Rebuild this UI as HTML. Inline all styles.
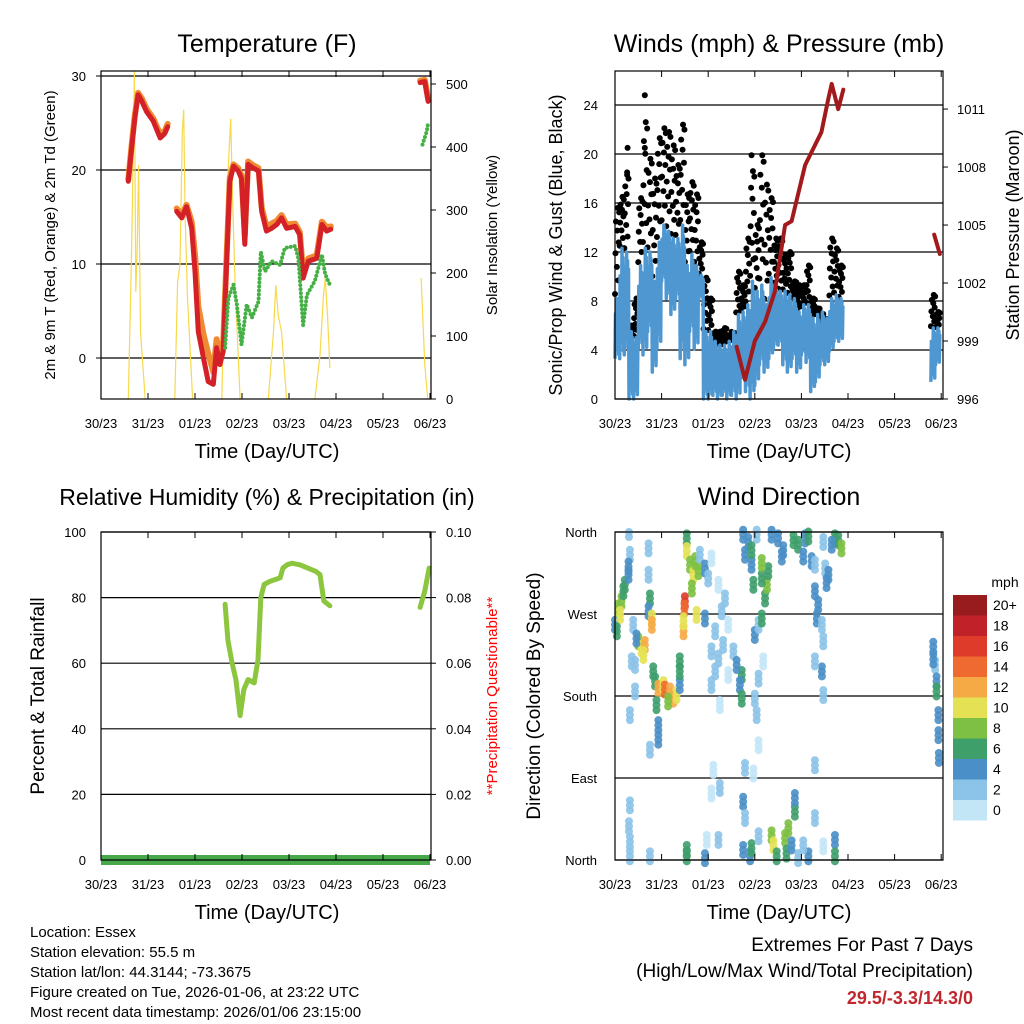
<!DOCTYPE html>
<html><head><meta charset="utf-8"><style>
html,body{margin:0;padding:0;background:#fff;}
svg{display:block;font-family:"Liberation Sans",sans-serif;}
</style></head><body>
<svg id="c" width="1024" height="1024" viewBox="0 0 1024 1024" xmlns="http://www.w3.org/2000/svg"></svg>
<script>
// ---------- DATA ----------
const dayLabels=["30/23","31/23","01/23","02/23","03/23","04/23","05/23","06/23"];
const temp2mT=[0.01,null,0.58,0.65,0.72,0.79,0.87,0.97,1.11,1.26,1.36,1.42,null,1.61,1.72,1.82,1.93,2.0,2.07,2.18,2.28,2.39,2.46,2.53,2.6,2.67,2.74,2.82,2.92,2.99,3.06,3.13,3.24,3.35,3.42,3.52,3.63,3.74,3.84,3.95,4.13,4.23,4.3,4.41,4.59,4.7,4.8,4.89,null,6.79,6.89,6.96];
const temp2mV=[14.8,null,18.8,22.3,25.5,28,27.3,26.2,25.2,23.4,23.9,24.6,null,15.6,14.9,16.1,13.8,9.2,2.8,0,-2.5,-2.8,1.1,-0.7,0.7,9.9,18.8,20.4,19.9,19.1,12.1,20.6,20.2,19.9,15.6,13.5,13.8,14.2,14.9,13.8,14.0,13.1,8.5,10.3,10.6,14.2,13.5,13.7,null,29.3,29.4,27.3];
const temp9mV=[14.9,null,19.0,22.6,25.8,28.2,27.6,26.5,25.5,23.8,24.2,24.9,null,15.9,15.2,16.3,14.5,11.0,5.5,2.5,0.5,-1.5,2.0,0.5,1.5,10.5,19.2,20.6,20.2,19.4,13.0,20.9,20.5,20.2,16.0,14.0,14.3,14.6,15.2,14.2,14.3,13.4,9.0,10.6,10.9,14.5,13.9,14.0,null,29.5,29.6,27.6];
const dewT=[2.64,2.71,2.82,2.89,2.99,3.1,3.21,3.35,3.4,3.49,3.63,3.81,3.91,4.13,4.2,4.3,4.38,4.55,4.7,4.77,4.87,null,6.84,6.93,6.96];
const dewV=[1.1,6.4,7.8,5.7,1.4,5.7,4.3,6.0,11.3,9.2,10.3,9.9,11.7,11.9,10.6,3.5,6.7,8.2,11.0,8.9,7.8,null,22.7,24.1,25];
const solarT=[0.58,0.64,0.67,0.71,0.74,0.77,0.8,0.84,0.94,null,1.57,1.63,1.68,1.73,1.76,1.79,1.84,1.95,null,2.57,2.65,2.71,2.76,2.8,2.85,2.96,null,3.56,3.67,3.72,3.77,3.84,3.95,null,4.55,4.66,4.73,4.77,4.82,4.87,null,6.81,6.89,6.95];
const solarV=[0,197,318,520,170,239,371,107,0,null,0,186,213,424,459,292,160,0,null,0,266,371,445,318,186,0,null,0,107,181,133,107,0,null,0,70,160,192,133,49,null,192,54,0];
const windLo=[3.3,3.3,3.6,0,0,4.1,3.6,5.5,2.2,4.1,9.6,8.2,6.9,8.2,3.3,2.8,5.5,4.1,8.2,0,0,0.3,0,0.3,0,0.3,0,1.7,0.6,0,1.1,2.8,2.2,3.3,4.1,4.4,2.8,2.2,3.3,2.2,3.6,3.0,0.6,1.4,2.8,2.8,3.9,4.7,4.7];
const windHi=[8.2,12.3,12.0,5.5,5.0,10.9,12.3,12.0,9.6,12.8,14.2,13.7,13.1,13.1,14.2,10.9,11.8,10.9,10.1,5.5,5.5,4.7,4.4,4.4,4.7,5.5,6.9,7.1,7.7,9.6,8.8,9.3,7.7,9.9,9.3,8.8,8.8,8.5,8.2,7.1,7.7,7.7,6.6,6.9,7.1,6.6,8.2,8.5,8.2];
const gustHi=[15.6,16.5,18.3,6.0,8.2,16.4,22.6,19.6,18.0,21.3,22.1,21.8,20.7,19.1,22.4,16.7,17.7,16.7,12.8,9.9,8.2,5.5,5.5,5.8,5.2,5.0,10.4,9.3,13.1,18.6,14.2,19.9,17.5,16.4,13.1,13.1,11.8,12.0,9.6,9.3,9.3,10.9,8.2,7.4,6.3,6.3,13.1,12.3,10.9];
const windLateT=[6.78,6.88];
const windLateLo=[1.4,2.8];
const windLateHi=[5.8,5.8];
const gustLateHi=[8.5,7.1];
const gustOutT=[0.64,0.64,0.27,2.93,0.26];
const gustOutV=[24.8,20.5,20.5,19.9,18.5];
const presT=[2.61,2.79,3.0,3.22,3.43,3.65,3.79,4.08,4.43,4.58,4.65,4.79,4.9,null,6.85,6.97];
const presV=[998.7,997.0,999.0,1000.0,1001.55,1005.0,1005.2,1008.1,1009.8,1011.55,1012.3,1011.0,1012.0,null,1004.5,1003.5];
const rhT=[2.64,2.70,2.79,2.87,2.96,3.04,3.13,3.26,3.34,3.40,3.47,3.6,3.81,3.87,3.96,4.06,4.23,4.4,4.57,4.66,4.74,4.87,null,6.79,6.89,6.98];
const rhV=[78,67,60,55,44,52,55,54,61,80,84,85,86,89,90,90.5,90,89,88,87,79,77.5,null,77,82,89];
const precipT=[0,7];
const precipV=[0,0];
const dirT=[0.0,0.07,0.14,0.11,0.18,0.04,0.21,0.29,0.3,0.32,0.29,0.39,0.5,0.57,0.64,0.61,0.46,0.43,0.36,0.43,0.32,0.72,0.72,0.75,0.72,0.79,0.79,0.82,0.86,0.93,1.04,1.07,1.18,1.25,1.14,1.32,1.39,0.89,0.93,0.93,0.75,0.32,0.3,0.32,0.32,0.75,1.39,1.39,1.5,1.49,1.47,1.47,1.54,1.54,1.61,1.68,1.72,1.65,1.79,1.75,1.82,1.93,2.0,1.93,2.07,2.22,2.29,2.36,2.43,2.15,2.07,2.22,2.15,2.32,2.54,2.43,2.07,2.25,2.11,2.25,2.07,1.93,1.54,1.54,1.97,2.22,2.72,2.68,2.72,2.61,2.79,2.97,2.75,2.79,2.75,2.9,2.93,3.08,3.08,3.04,3.0,3.08,3.18,3.0,3.08,3.15,3.22,3.26,3.29,3.15,2.97,2.93,2.79,2.75,2.86,3.04,2.93,3.15,3.36,3.5,3.61,3.58,3.83,3.93,4.08,4.15,4.04,4.22,4.29,4.36,4.33,4.29,4.47,4.51,4.58,4.72,4.79,4.86,4.65,4.54,4.44,4.47,4.44,4.47,4.29,4.29,4.29,3.36,3.4,3.47,3.65,3.72,3.68,3.86,3.86,3.79,3.93,4.15,4.04,4.72,4.72,4.47,6.83,6.87,6.9,6.9,6.94,6.94,6.95,6.83];
const dirV=[258,276,284,269,295,251,302,313,360,335,322,258,240,232,236,225,243,214,218,185,159,342,313,287,273,265,258,207,196,188,192,187,185,177,174,181,192,170,148,132,121,60,37,20,4,4,218,207,284,276,251,262,353,339,324,313,328,298,317,269,335,320,309,265,331,302,273,287,258,251,229,221,207,236,229,203,192,170,99,79,73,2,11,4,22,22,203,192,177,214,101,95,64,46,11,4,13,26,126,159,177,199,218,247,258,265,287,302,317,309,302,324,335,357,349,357,340,326,357,353,340,333,351,346,353,355,333,328,295,280,265,324,349,320,313,353,351,342,346,304,258,240,207,181,218,104,46,27,16,4,24,35,7,53,68,16,2,4,16,22,4,15,234,214,196,185,159,137,112,220];
const dirS=[4,9,8,11,6,6,7,5,3,2,4,2,8,10,12,11,4,3,2,2,3,2,2,6,5,10,12,6,6,13,10,15,12,12,8,11,4,7,4,4,3,2,3,3,3,3,6,7,16,14,13,10,7,10,9,10,8,9,8,10,3,5,2,4,1,1,2,2,1,2,2,3,2,2,3,1,2,1,1,2,1,4,6,6,1,3,6,5,6,4,3,1,4,3,4,4,6,2,1,3,2,3,1,4,2,6,6,8,6,6,6,4,4,4,5,2,7,8,4,4,4,4,6,6,4,6,4,4,4,4,4,2,2,2,4,6,6,8,4,4,2,2,4,2,2,2,2,8,10,6,8,8,6,6,4,4,2,4,2,4,6,1,4,2,4,6,4,4,4,4];
const speedLabels=["0","2","4","6","8","10","12","14","16","18","20+"];
const speedColors=["#c3e6f7","#8cc3e8","#4a8fc7","#3f9f6b","#7dc043","#e4e254","#f6aa45","#ee6a30","#de3b2a","#c1222a","#981b1e"];

// ---------- HELPERS ----------
const NS="http://www.w3.org/2000/svg";
const svg=document.getElementById('c');
function mk(tag,attrs,parent,text){const e=document.createElementNS(NS,tag);for(const k in attrs)e.setAttribute(k,attrs[k]);if(text!==undefined)e.textContent=text;(parent||svg).appendChild(e);return e;}
function txt(x,y,s,size,anchor,name,extra){const e=mk('text',Object.assign({x:x,y:y,'font-size':size,'text-anchor':anchor||'middle',fill:'#000'},extra||{}),svg,s);


return e;}
function pathFrom(T,V,sx,sy){let d='',pen=false;for(let i=0;i<T.length;i++){if(T[i]===null||V[i]===null){pen=false;continue;}d+=(pen?'L':'M')+sx(T[i]).toFixed(1)+','+sy(V[i]).toFixed(1);pen=true;}return d;}
function panelFrame(x0,y0,x1,y1,name,gridVals,sy){
  const g=mk('g',{});
  
  
  gridVals.forEach(v=>{const y=sy(v);const l=mk('line',{x1:x0,x2:x1,y1:y,y2:y,stroke:'#000','stroke-width':1.2},g);
    
    });
  return g;
}
function border(x0,y0,x1,y1,name){const r=mk('rect',{x:x0,y:y0,width:x1-x0,height:y1-y0,fill:'none',stroke:'#000','stroke-width':1.2});

}
function xTicks(x0,x1,y0,y1,sx){
  dayLabels.forEach((lab,i)=>{const x=sx(i);
    mk('line',{x1:x,x2:x,y1:y1,y2:y1-6,stroke:'#000'});mk('line',{x1:x,x2:x,y1:y0,y2:y0+6,stroke:'#000'});
    txt(x,y1+29,lab,13,'middle','x-tick-label');});
}

// ---------- PANEL 1 ----------
(function(){
 const x0=101,x1=431,y0=71,y1=399;
 const sx=d=>x0+d*47, sy=v=>358-v*9.4, ss=v=>399-v*0.63;
 panelFrame(x0,y0,x1,y1,'temperature-plot',[0,10,20,30],sy);
 const sol=mk('path',{d:pathFrom(solarT,solarV,sx,ss),fill:'none',stroke:'#f7d94a','stroke-width':1.2});
 
 
 const o=mk('path',{d:pathFrom(temp2mT,temp9mV,sx,sy),fill:'none',stroke:'#f08a32','stroke-width':6,'stroke-linejoin':'round','stroke-linecap':'round'});
 
 
 const r=mk('path',{d:pathFrom(temp2mT,temp2mV,sx,sy),fill:'none',stroke:'#d42027','stroke-width':5,'stroke-linejoin':'round','stroke-linecap':'round'});
 
 
 const dg=mk('path',{d:pathFrom(dewT,dewV,sx,sy),fill:'none',stroke:'#45b045','stroke-width':4,'stroke-dasharray':'0 4','stroke-linecap':'round','stroke-linejoin':'round'});
 
 
 border(x0,y0,x1,y1,'temperature-frame');
 xTicks(x0,x1,y0,y1,sx);
 [0,10,20,30].forEach(v=>{mk('line',{x1:x0-5,x2:x0,y1:sy(v),y2:sy(v),stroke:'#000'});txt(86,sy(v)+5,String(v),13,'end','y-tick-label');});
 [0,100,200,300,400,500].forEach(v=>{mk('line',{x1:x1,x2:x1+5,y1:ss(v),y2:ss(v),stroke:'#000'});txt(446,ss(v)+5,String(v),13,'start','y2-tick-label');});
 txt(267,52,'Temperature (F)',25,'middle','temperature-title');
 txt(267,458,'Time (Day/UTC)',20,'middle','x-axis-title');
 txt(0,0,'2m & 9m T (Red, Orange) & 2m Td (Green)',15,'middle','y-axis-title',{transform:'translate(55,235) rotate(-90)'});
 txt(0,0,'Solar Insolation (Yellow)',15,'middle','y2-axis-title',{transform:'translate(497,235) rotate(-90)'});
})();

// ---------- PANEL 2 ----------
(function(){
 const x0=615,x1=943,y0=71,y1=399;
 const sx=d=>x0+d*46.6, sy=v=>399-v*12.25, sp=v=>399-(v-996)*19.33;
 const grid=[0,4,8,12,16,20,24];
 panelFrame(x0,y0,x1,y1,'winds-plot',grid,sy);
 const gg=mk('g',{});
 
 
 const fr=[0.05,0.2,0.35,0.5,0.62,0.75,0.85,0.95,1.0];
 function gusts(t,lo,hi){fr.forEach((f,k)=>{const v=lo+(hi-lo)*f;const x=sx(t+((k*37)%10)/100);mk('circle',{cx:x,cy:sy(v),r:3,fill:'#000'},gg);});}
 windHi.forEach((h,i)=>gusts(i*0.1,h,gustHi[i]));
 windLateHi.forEach((h,i)=>gusts(windLateT[i],h,gustLateHi[i]));
 gustOutT.forEach((t,i)=>mk('circle',{cx:sx(t),cy:sy(gustOutV[i]),r:3,fill:'#000'},gg));
 function zigPath(T0,Lo,Hi){let d='';Lo.forEach((l,i)=>{const t=T0(i);const h=Hi[i];
   for(let k=0;k<10;k++){const x=sx(t+k*0.01);const v=(k%2)?h-(h-l)*((k*3)%5)/12:l+(h-l)*((k*7)%5)/14;
     d+=((i===0&&k===0)?'M':'L')+x.toFixed(1)+','+sy(v).toFixed(1);}});return d;}
 const w=mk('path',{d:zigPath(i=>i*0.1,windLo,windHi)+zigPath(i=>windLateT[i],windLateLo,windLateHi),fill:'none',stroke:'#4f97d1','stroke-width':3.5,'stroke-linejoin':'round'});
 
 
 const p=mk('path',{d:pathFrom(presT,presV,sx,sp),fill:'none',stroke:'#a31a1d','stroke-width':4,'stroke-linejoin':'round','stroke-linecap':'round'});
 
 
 border(x0,y0,x1,y1,'winds-frame');
 xTicks(x0,x1,y0,y1,sx);
 grid.forEach(v=>{txt(598,sy(v)+5,String(v),13,'end','y-tick-label');});
 [996,999,1002,1005,1008,1011].forEach(v=>{mk('line',{x1:x1,x2:x1+5,y1:sp(v),y2:sp(v),stroke:'#000'});txt(957,sp(v)+5,String(v),13,'start','y2-tick-label');});
 txt(779,52,'Winds (mph) & Pressure (mb)',25,'middle','winds-title');
 txt(779,458,'Time (Day/UTC)',20,'middle','x-axis-title');
 txt(0,0,'Sonic/Prop Wind & Gust (Blue, Black)',18,'middle','y-axis-title',{transform:'translate(562,245) rotate(-90)'});
 txt(0,0,'Station Pressure (Maroon)',18,'middle','y2-axis-title',{transform:'translate(1019,235) rotate(-90)'});
})();

// ---------- PANEL 3 ----------
(function(){
 const x0=101,x1=431,y0=532,y1=860;
 const sx=d=>x0+d*47, sy=v=>860-v*3.28, spr=v=>860-v*3280;
 const grid=[0,20,40,60,80,100];
 panelFrame(x0,y0,x1,y1,'humidity-plot',grid,sy);
 const pr=mk('path',{d:pathFrom(precipT,precipV,sx,spr),fill:'none',stroke:'#47a84a','stroke-width':10});
 
 
 const rh=mk('path',{d:pathFrom(rhT,rhV,sx,sy),fill:'none',stroke:'#8cc63f','stroke-width':5,'stroke-linejoin':'round','stroke-linecap':'round'});
 
 
 border(x0,y0,x1,y1,'humidity-frame');
 xTicks(x0,x1,y0,y1,sx);
 grid.forEach(v=>txt(86,sy(v)+5,String(v),13,'end','y-tick-label'));
 ['0.00','0.02','0.04','0.06','0.08','0.10'].forEach((s,i)=>{mk('line',{x1:x1,x2:x1+5,y1:sy(i*20),y2:sy(i*20),stroke:'#000'});txt(446,sy(i*20)+5,s,13,'start','y2-tick-label');});
 txt(267,505,'Relative Humidity (%) & Precipitation (in)',23,'middle','humidity-title');
 txt(267,919,'Time (Day/UTC)',20,'middle','x-axis-title');
 txt(0,0,'Percent & Total Rainfall',19,'middle','y-axis-title',{transform:'translate(44,696) rotate(-90)'});
 txt(0,0,'**Precipitation Questionable**',15,'middle','precip-warning',{transform:'translate(497,696) rotate(-90)',fill:'#ff0000'});
})();

// ---------- PANEL 4 ----------
(function(){
 const x0=615,x1=943,y0=532,y1=860;
 const sx=d=>x0+d*46.6, sy=v=>860-v*(328/360);
 panelFrame(x0,y0,x1,y1,'wind-direction-plot',[0,90,180,270,360],sy);
 const g=mk('g',{'fill-opacity':0.9});
 
 
 const offs=[-5,0,5];
 dirT.forEach((t,i)=>{const c=speedColors[Math.min(10,Math.floor(dirS[i]/2))];
   offs.forEach(o=>{const y=sy(dirV[i])+o;if(y<y0-4||y>y1+4)return;mk('circle',{cx:sx(t),cy:y,r:4,fill:c},g);});});
 border(x0,y0,x1,y1,'wind-direction-frame');
 xTicks(x0,x1,y0,y1,sx);
 ['North','East','South','West','North'].forEach((s,i)=>txt(597,sy(i*90)+5,s,13,'end','y-tick-label'));
 txt(779,505,'Wind Direction',25,'middle','wind-direction-title');
 txt(779,919,'Time (Day/UTC)',20,'middle','x-axis-title');
 txt(0,0,'Direction (Colored By Speed)',19,'middle','y-axis-title',{transform:'translate(540,696) rotate(-90)'});
 txt(1005,587,'mph',14,'middle','colorbar-title');
 for(let i=0;i<11;i++){const k=10-i;const y=595+i*20.5;
   const r=mk('rect',{x:953,y:y,width:34,height:20.5,fill:speedColors[k]});
   
   
   txt(993,y+15,speedLabels[k],14,'start','colorbar-label');}
})();

// ---------- FOOTER ----------
['Location: Essex','Station elevation: 55.5 m','Station lat/lon: 44.3144; -73.3675','Figure created on Tue, 2026-01-06, at 23:22 UTC','Most recent data timestamp: 2026/01/06 23:15:00'].forEach((s,i)=>txt(30,937+i*20,s,15,'start','station-info-line'));
txt(973,951,'Extremes For Past 7 Days',19,'end','extremes-title');
txt(973,977,'(High/Low/Max Wind/Total Precipitation)',19,'end','extremes-subtitle');
txt(973,1004,'29.5/-3.3/14.3/0',18,'end','extremes-values',{fill:'#c0272d','font-weight':'bold'});
</script>
</body></html>
